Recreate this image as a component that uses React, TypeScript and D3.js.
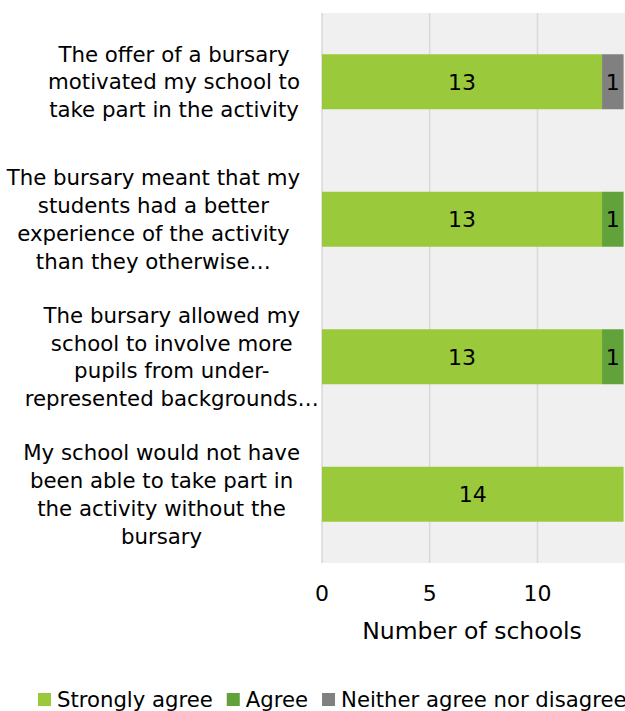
import React, { useEffect, useRef } from "react";
import * as d3 from "d3";

const categories: string[][] = [
  ["The offer of a bursary", "motivated my school to", "take part in the activity"],
  ["The bursary meant that my", "students had a better", "experience of the activity", "than they otherwise…"],
  ["The bursary allowed my", "school to involve more", "pupils from under-", "represented backgrounds…"],
  ["My school would not have", "been able to take part in", "the activity without the", "bursary"],
];
const seriesNames = ["Strongly agree", "Agree", "Neither agree nor disagree"];
const stronglyAgree = [13, 13, 13, 14];
const agree = [0, 1, 1, 0];
const neither = [1, 0, 0, 0];
const xTicks = [0, 5, 10];
const xTitle = "Number of schools";
const colors = ["#9aca3c", "#62a23a", "#808080"];

const FONT = "'DejaVu Sans', sans-serif";

export default function App() {
  const ref = useRef<SVGSVGElement>(null);
  useEffect(() => {
    const svg = d3.select(ref.current);
    svg.selectAll("*").remove();
    const x = d3.scaleLinear().domain([0, 14]).range([322, 623.6]);
    const ids = categories.map((_, i) => String(i));
    const y = d3.scaleBand<string>().domain(ids).range([13, 563]).paddingInner(0.6).paddingOuter(0.3);

    svg.append("rect").attr("x", 322).attr("y", 13).attr("width", 303).attr("height", 550).attr("fill", "#f0f0f0");
    svg.selectAll("line.grid").data(xTicks).enter().append("line")
      .attr("x1", (d) => x(d)).attr("x2", (d) => x(d)).attr("y1", 13).attr("y2", 563)
      .attr("stroke", "#d9d9d9").attr("stroke-width", 1.5);

    const rows = categories.map((_, i) => {
      const vals = [stronglyAgree[i], agree[i], neither[i]];
      let acc = 0;
      return vals.map((v, s) => { const r = { i, s, x0: acc, x1: acc + v, v }; acc += v; return r; });
    }).flat().filter((r) => r.v > 0);

    svg.selectAll("rect.bar").data(rows).enter().append("rect")
      .attr("x", (d) => x(d.x0)).attr("width", (d) => x(d.x1) - x(d.x0))
      .attr("y", (d) => y(String(d.i))!).attr("height", y.bandwidth())
      .attr("fill", (d) => colors[d.s]);
    svg.selectAll("text.val").data(rows).enter().append("text")
      .attr("x", (d) => (x(d.x0) + x(d.x1)) / 2).attr("y", (d) => y(String(d.i))! + y.bandwidth() / 2)
      .attr("dy", "0.36em").attr("text-anchor", "middle")
      .attr("font-family", FONT).attr("font-size", 22).attr("fill", "#000")
      .text((d) => String(d.v));

    // category labels
    const lineH = 27.8;
    categories.forEach((lines, i) => {
      const g = svg.append("g");
      const cy = y(String(i))! + y.bandwidth() / 2;
      const texts = lines.map((ln, k) =>
        g.append("text").attr("y", cy + (k - (lines.length - 1) / 2) * lineH).attr("dy", "0.36em")
          .attr("text-anchor", "middle").attr("font-family", FONT).attr("font-size", 21.3).attr("fill", "#000").text(ln)
      );
      let maxW = 0;
      texts.forEach((t, k) => {
        if (!lines[k].endsWith("…")) maxW = Math.max(maxW, (t.node() as SVGTextElement).getComputedTextLength());
      });
      const cx = 300 - maxW / 2;
      texts.forEach((t) => t.attr("x", cx));
    });

    svg.selectAll("text.tick").data(xTicks).enter().append("text")
      .attr("x", (d) => x(d)).attr("y", 593).attr("dy", "0.36em").attr("text-anchor", "middle")
      .attr("font-family", FONT).attr("font-size", 22).attr("fill", "#000").text((d) => String(d));
    svg.append("text").attr("x", 472).attr("y", 631).attr("dy", "0.36em").attr("text-anchor", "middle")
      .attr("font-family", FONT).attr("font-size", 23.5).attr("fill", "#000").text(xTitle);

    // legend
    const lg = svg.append("g");
    let lx = 38;
    seriesNames.forEach((n, s) => {
      lg.append("rect").attr("x", lx).attr("y", 693).attr("width", 13).attr("height", 13).attr("fill", colors[s]);
      const t = lg.append("text").attr("x", lx + 19).attr("y", 699.5).attr("dy", "0.36em")
        .attr("font-family", FONT).attr("font-size", 21.2).attr("fill", "#000").text(n);
      lx += 19 + (t.node() as SVGTextElement).getComputedTextLength() + 14;
    });
  }, []);
  return (
    <svg ref={ref} width={625} height={711} style={{ position: "absolute", left: 0, top: 0, background: "#fff" }} />
  );
}
